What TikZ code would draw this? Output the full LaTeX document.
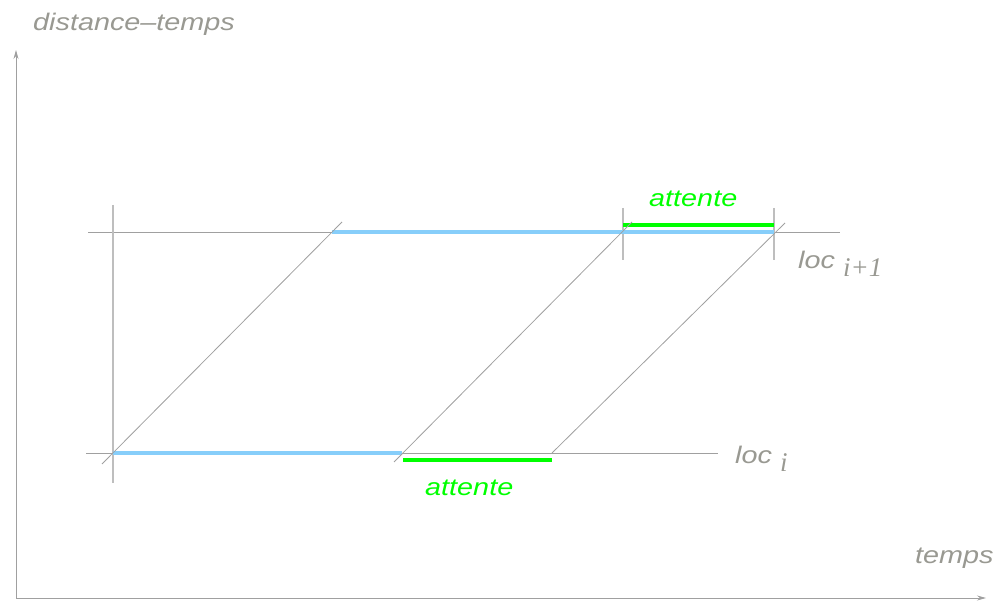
\documentclass[tikz,border=0pt]{standalone}
\usepackage{fontspec}
\setmainfont{Liberation Serif}
\setsansfont{Liberation Sans}[FakeStretch=1.2]
\usetikzlibrary{arrows.meta}
\definecolor{txtgray}{RGB}{153,153,146}
\definecolor{lngray}{RGB}{160,160,160}
\definecolor{ltgray}{RGB}{190,190,190}
\definecolor{skyb}{RGB}{135,206,250}
\definecolor{brgreen}{RGB}{0,255,0}
\tikzset{
  axis/.style={draw=lngray, line width=0.8pt, -{Stealth[length=9pt,width=5pt]}},
  thin line/.style={draw=lngray, line width=0.8pt},
  tickline/.style={draw=ltgray, line width=1.6pt},
  blueseg/.style={draw=skyb, line width=4pt},
  greenseg/.style={draw=brgreen, line width=4pt},
  lbl/.style={font=\fontsize{24}{28}\selectfont\sffamily\itshape, text=txtgray, inner sep=0pt, anchor=base west},
  glbl/.style={font=\fontsize{24}{28}\selectfont\sffamily\itshape, text=brgreen, inner sep=0pt, anchor=base west}
}
\newcommand{\subtxt}[1]{\raisebox{-8pt}{\fontsize{27}{30}\selectfont\rmfamily\itshape #1}}
\begin{document}
\begin{tikzpicture}[x=1pt,y=-1pt]
\useasboundingbox (0,0) rectangle (999,612);
% axes
\coordinate (O) at (16,598);
\coordinate (Ytop) at (16,50);
\coordinate (Xend) at (986,598);
\draw[axis] (O) -- (Ytop);
\draw[axis] (O) -- (Xend);
% horizontal location lines
\coordinate (Ua) at (88,232);
\coordinate (Ub) at (840,232);
\coordinate (La) at (86,453);
\coordinate (Lb) at (718,453);
\draw[thin line] (Ua) -- (Ub);
\draw[thin line] (La) -- (Lb);
% vertical line
\coordinate (Va) at (113,205);
\coordinate (Vb) at (113,483);
\draw[tickline] (Va) -- (Vb);
% ticks
\coordinate (T1a) at (623,208);
\coordinate (T1b) at (623,260);
\coordinate (T2a) at (774,208);
\coordinate (T2b) at (774,260);
\draw[tickline] (T1a) -- (T1b);
\draw[tickline] (T2a) -- (T2b);
% blue segments
\coordinate (B1a) at (113,453);
\coordinate (B1b) at (402,453);
\coordinate (B2a) at (332,232);
\coordinate (B2b) at (774,232);
\draw[blueseg] (B1a) -- (B1b);
\draw[blueseg] (B2a) -- (B2b);
% green segments
\coordinate (G1a) at (403,460);
\coordinate (G1b) at (552,460);
\coordinate (G2a) at (623,225);
\coordinate (G2b) at (774,225);
\draw[greenseg] (G1a) -- (G1b);
\draw[greenseg] (G2a) -- (G2b);
% diagonals
\coordinate (D1a) at (102,464);
\coordinate (D1b) at (342,222);
\coordinate (D2a) at (394,462);
\coordinate (D2b) at (632,222);
\coordinate (D3a) at (552,453);
\coordinate (D3b) at (785,223);
\draw[thin line] (D1a) -- (D1b);
\draw[thin line] (D2a) -- (D2b);
\draw[thin line] (D3a) -- (D3b);
% labels
\node[lbl] (ylab) at (33,31) {distance–temps};
\node[lbl] (xlab) at (915,563) {temps};
\node[glbl] (att1) at (649,207) {attente};
\node[glbl] (att2) at (425,495) {attente};
\node[lbl] (loc1) at (798,269) {loc \subtxt{i+1}};
\node[lbl] (loc0) at (735,463) {loc \subtxt{i}};
\end{tikzpicture}
\end{document}
